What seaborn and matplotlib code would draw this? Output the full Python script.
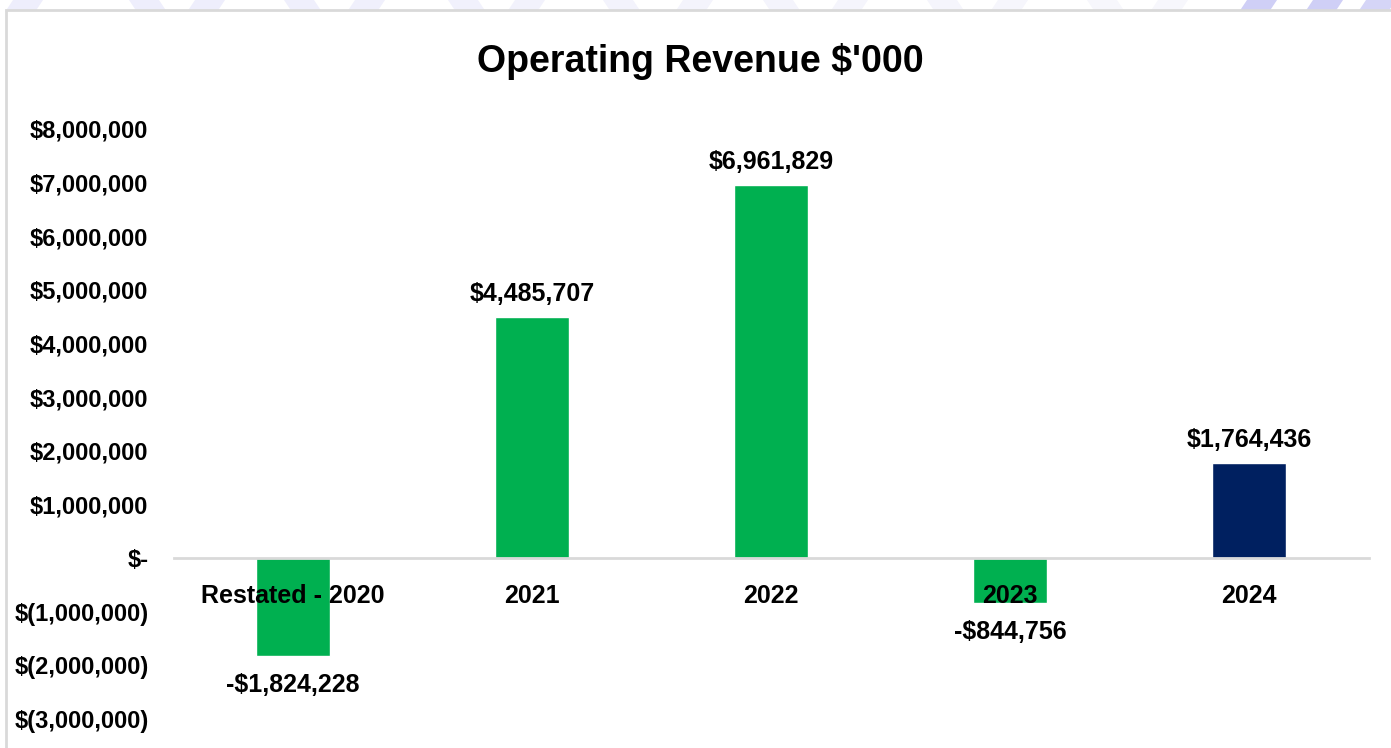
import matplotlib
matplotlib.use("Agg")
import matplotlib.pyplot as plt
import matplotlib.patches as mpatches
import seaborn as sns
import pandas as pd

# datos del gráfico
anios = ["Restated - 2020", "2021", "2022", "2023", "2024"]
ingresos = [-1824228, 4485707, 6961829, -844756, 1764436]
colores = ["#00B050", "#00B050", "#00B050", "#00B050", "#002060"]
ticks_y = [-3000000, -2000000, -1000000, 0, 1000000, 2000000, 3000000,
           4000000, 5000000, 6000000, 7000000, 8000000]

# franjas de la marca de agua (inicio x en píxeles, inclinación, color)
franjas = [(13, 8, "#EEEEFC"), (129, -8, "#EEEEFC"), (195, 8, "#EEEEFC"),
           (284, -8, "#EFEFFC"), (355, 8, "#F0F0FC"), (448, -8, "#F1F1FC"),
           (515, 8, "#F2F2FC"), (603, -8, "#F3F3FC"), (683, 8, "#F4F4FC"),
           (763, -8, "#F4F4FC"), (838, 8, "#F5F5FC"), (927, -8, "#F5F5FC"),
           (998, 8, "#F6F6FC"), (1087, -8, "#F7F7FC"), (1158, 8, "#F7F7FC"),
           (1247, 8, "#CFCFF6"), (1313, 8, "#CFCFF6"), (1366, 8, "#D5D5F7")]


def fmt_eje(v):
    if v == 0:
        return "$-"
    if v < 0:
        return "$({:,.0f})".format(-v)
    return "${:,.0f}".format(v)


def fmt_barra(v):
    if v < 0:
        return "-${:,.0f}".format(-v)
    return "${:,.0f}".format(v)


sns.set_style("white")
plt.rcParams["font.family"] = ["Liberation Sans Narrow", "Liberation Sans", "DejaVu Sans"]
plt.rcParams["font.weight"] = "bold"
plt.rcParams["text.color"] = "black"
plt.rcParams["xtick.color"] = "black"
plt.rcParams["ytick.color"] = "black"

df = pd.DataFrame({"anio": anios, "ingreso": ingresos})

fig = plt.figure(figsize=(13.91, 7.48), dpi=100)
fig.patch.set_facecolor("white")

# fondo: marca de agua y marco del gráfico
fondo = fig.add_axes([0, 0, 1, 1], zorder=0)
fondo.set_axis_off()
fondo.set_xlim(0, 1391)
fondo.set_ylim(748, 0)
for x0, incl, c in franjas:
    fondo.add_patch(mpatches.Polygon([(x0, 0), (x0 + 30, 0), (x0 + 30 - incl, 12), (x0 - incl, 12)],
                                     closed=True, facecolor=c, edgecolor="none"))
fondo.add_patch(mpatches.Rectangle((6, 10), 1400, 750, facecolor="white",
                                   edgecolor="#D9D9D9", linewidth=2))

ax = fig.add_axes([173.5 / 1391, 1 - 719 / 748, 1195 / 1391, 590 / 748], zorder=2)
ax.set_facecolor("none")

sns.barplot(data=df, x="anio", y="ingreso", hue="anio", palette=colores,
            width=0.31, legend=False, ax=ax, saturation=1)

ax.set_xlim(-0.5, 4.5)
ax.set_ylim(-3000000, 8000000)
ax.set_yticks(ticks_y)
ax.set_yticklabels([fmt_eje(v) for v in ticks_y])

for s in ["top", "right", "left"]:
    ax.spines[s].set_visible(False)
ax.spines["bottom"].set_position(("data", 0))
ax.spines["bottom"].set_color("#D9D9D9")
ax.spines["bottom"].set_linewidth(2)
ax.set_axisbelow(False)

ax.tick_params(axis="x", length=0, pad=19, labelsize=18)
ax.tick_params(axis="y", length=0, pad=18, labelsize=17)
for t in ax.get_xticklabels() + ax.get_yticklabels():
    t.set_fontweight("bold")
ax.set_xlabel("")
ax.set_ylabel("")

for i, v in enumerate(ingresos):
    if v >= 0:
        ax.annotate(fmt_barra(v), (i, v), xytext=(0, 8), textcoords="offset points",
                    ha="center", va="bottom", fontsize=18, fontweight="bold")
    else:
        ax.annotate(fmt_barra(v), (i, v), xytext=(0, -12), textcoords="offset points",
                    ha="center", va="top", fontsize=18, fontweight="bold")

fig.text(700 / 1391, 1 - 62 / 748, "Operating Revenue $'000", ha="center", va="center",
         fontsize=27, fontweight="bold")

fig.savefig("out.png", dpi=100)
